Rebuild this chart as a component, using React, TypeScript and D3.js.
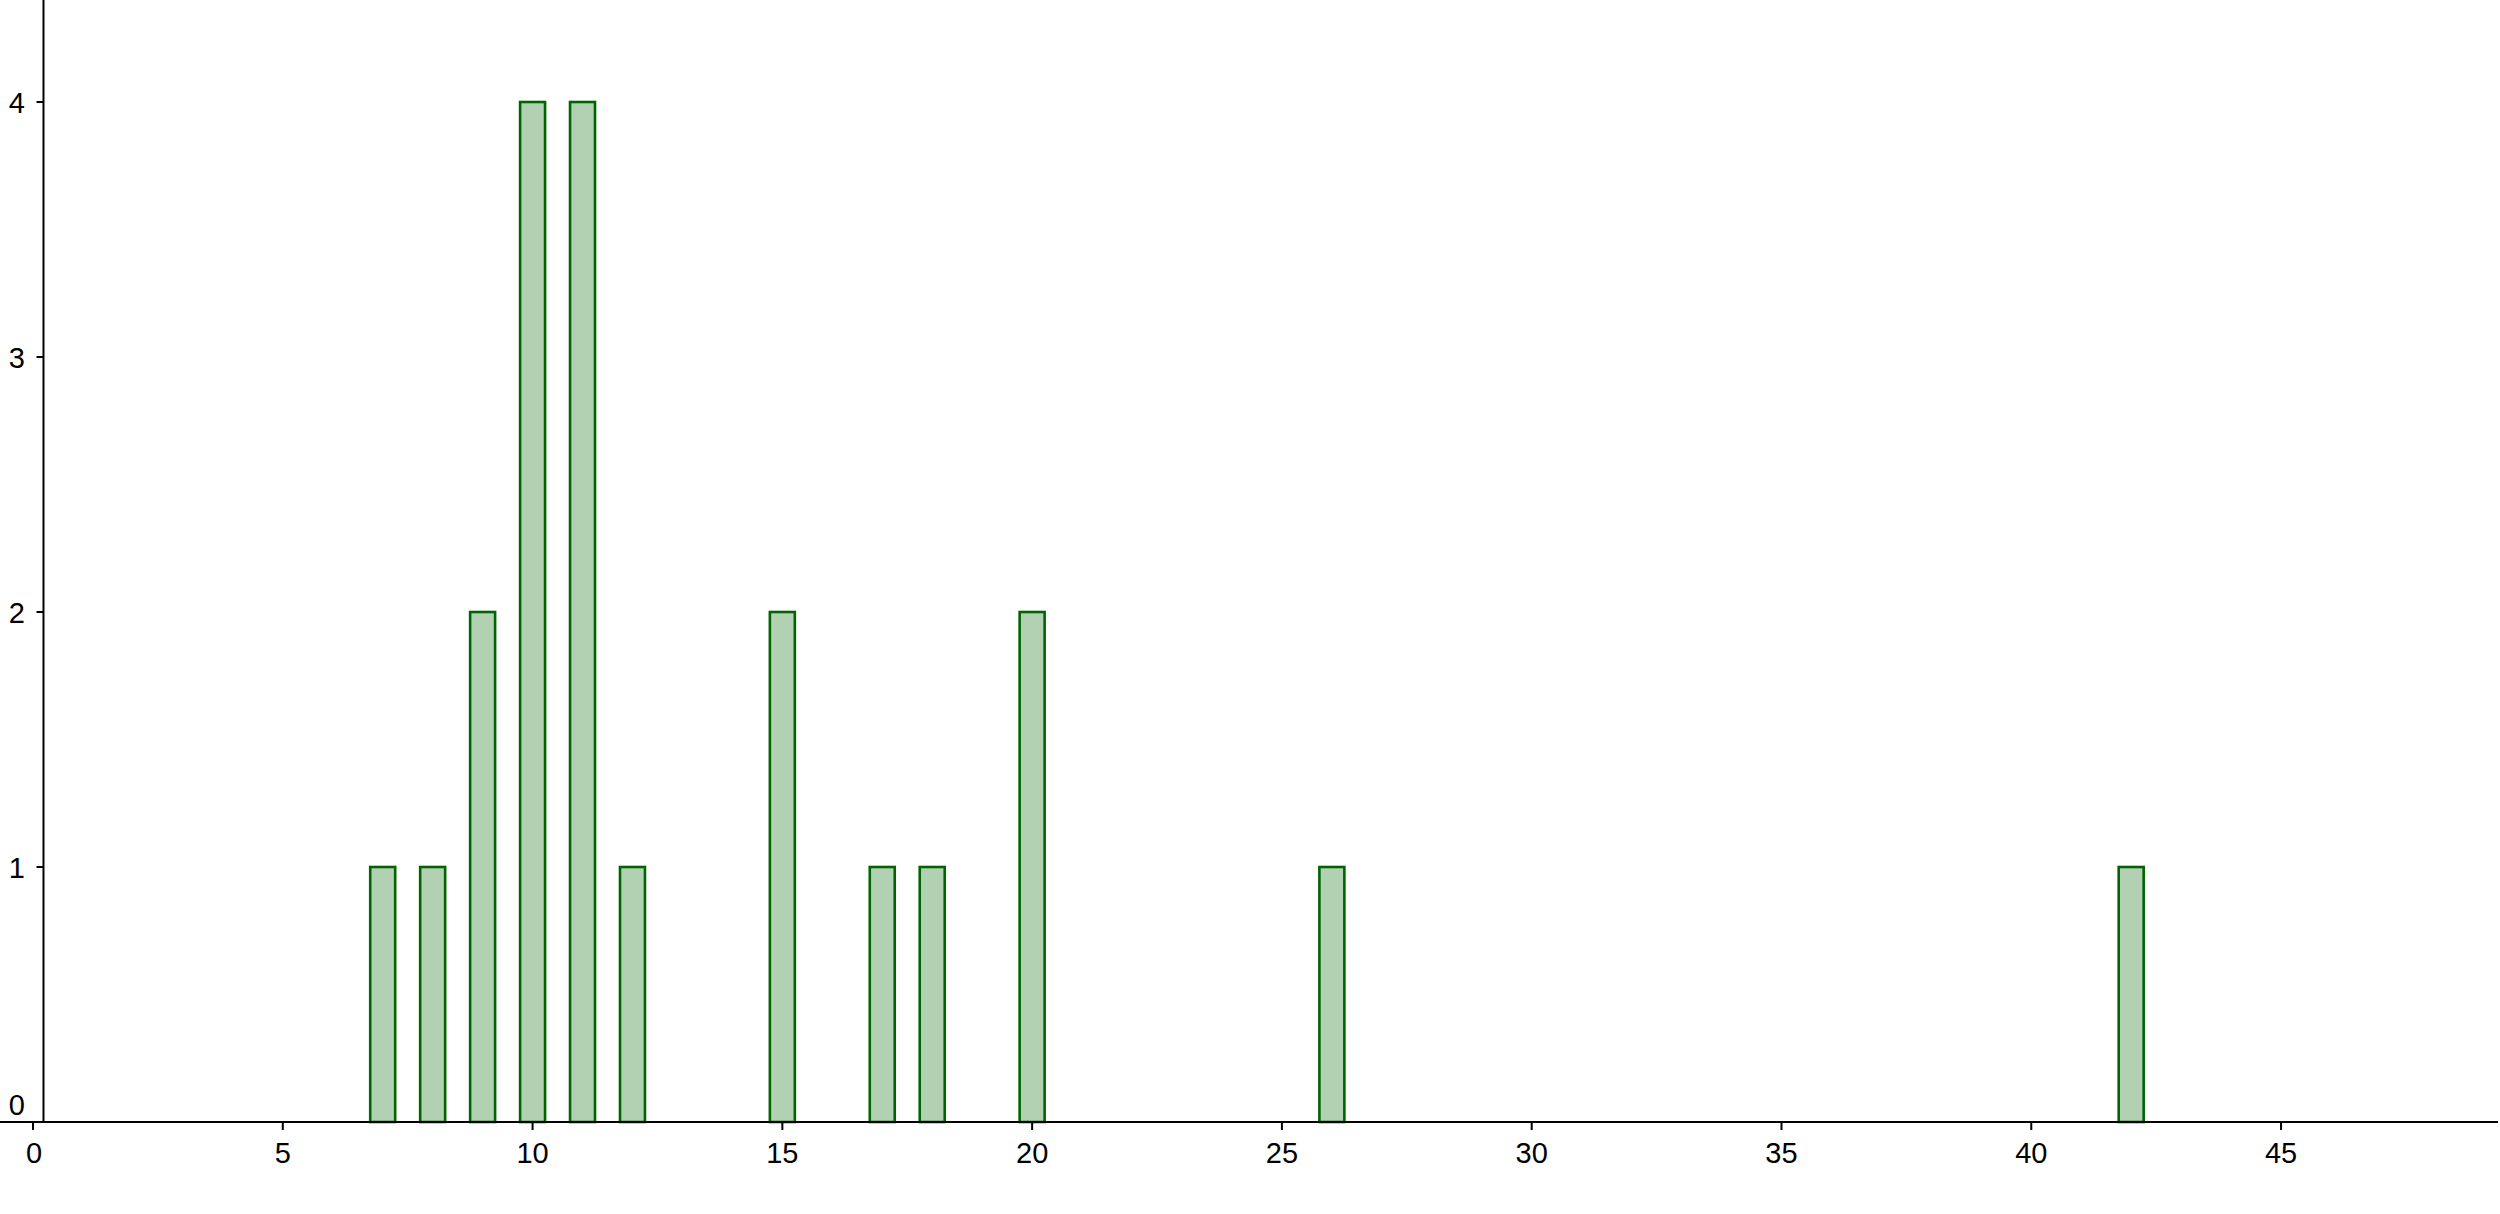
import React from "react";
import * as d3 from "d3";

const categories: number[] = [7, 8, 9, 10, 11, 12, 15, 17, 18, 20, 26, 42];
const counts: number[] = [1, 1, 2, 4, 4, 1, 2, 1, 1, 2, 1, 1];
const xTicks: number[] = [0, 5, 10, 15, 20, 25, 30, 35, 40, 45];
const yTicks: number[] = [0, 1, 2, 3, 4];

const W = 2500;
const H = 1214;

export default function App() {
  const x = d3.scaleLinear().domain([0, 30]).range([33, 1531.7]);
  const y = d3.scaleLinear().domain([0, 4]).range([1122, 102]);
  const yAxisX = x(0.21);
  const barW = x(0.5) - x(0);
  const font = "'Liberation Sans', Arial, sans-serif";
  const fs = 29;

  return (
    <svg
      width={W}
      height={H}
      style={{ position: "absolute", left: 0, top: 0, display: "block", background: "#fff" }}
      fontFamily={font}
    >
      <rect x={0} y={0} width={W} height={H} fill="#ffffff" />
      {categories.map((c, i) => (
        <rect
          key={c}
          x={x(c) - barW / 2}
          y={y(counts[i])}
          width={barW}
          height={y(0) - y(counts[i])}
          fill="rgba(0,100,0,0.3)"
          stroke="#006400"
          strokeWidth={2.6}
        />
      ))}
      {/* x axis */}
      <line x1={0} x2={2498} y1={y(0)} y2={y(0)} stroke="#000" strokeWidth={2} />
      {xTicks.map((t) => (
        <g key={t}>
          <line x1={x(t)} x2={x(t)} y1={y(0)} y2={y(0) + 8} stroke="#000" strokeWidth={2} />
          <text x={x(t) + (t === 0 ? 1 : 0)} y={1163} textAnchor="middle" fontSize={fs} fill="#000">
            {t}
          </text>
        </g>
      ))}
      {/* y axis */}
      <line x1={yAxisX} x2={yAxisX} y1={0} y2={y(0)} stroke="#000" strokeWidth={2} />
      {yTicks.map((t) => (
        <g key={t}>
          {t !== 0 && (
            <line x1={yAxisX - 7} x2={yAxisX} y1={y(t)} y2={y(t)} stroke="#000" strokeWidth={2} />
          )}
          <text
            x={25}
            y={t === 0 ? y(0) - 7 : y(t) + 11}
            textAnchor="end"
            fontSize={fs}
            fill="#000"
          >
            {t}
          </text>
        </g>
      ))}
    </svg>
  );
}
